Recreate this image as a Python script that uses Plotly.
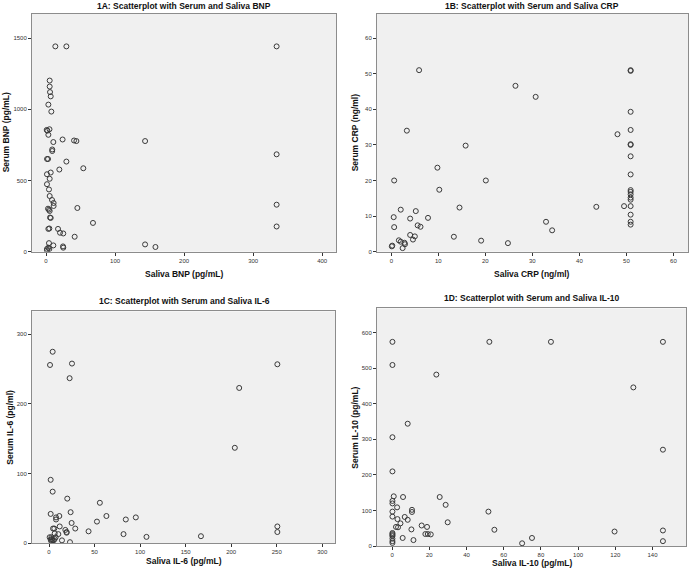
import plotly.graph_objects as go

W, H = 690, 576

# ---- data ----
bnp_saliva = [13.5, 29.5, 334, 5.3, 5.3, 5.8, 6.8, 3.4, 7.7, 1, 2, 5, 3.4, 24, 40.6, 44, 143.5, 10.6, 9, 9,
              1.5, 2.9, 29.5, 334, 19.3, 54, 6.8, 1.4, 5.3, 1.4, 4.3, 5.3, 8.7, 11, 11, 45.4, 334, 2.9, 4.3, 5.3,
              5.8, 6.8, 68, 334, 3.4, 4.8, 17.4, 20.3, 25, 41.5, 4.3, 10.6, 143.5, 158.5, 24.6, 25, 3.4, 1.4, 4.8, 1.4]
bnp_serum = [1442, 1442, 1442, 1202, 1160, 1121, 1091, 1033, 984, 855, 850, 860, 821, 788, 781, 777, 777, 770, 718, 707,
             651, 651, 633, 684, 577, 586, 556, 544, 512, 474, 437, 391, 363, 342, 321, 307, 330, 302, 295, 286,
             240, 237, 202, 177, 160, 163, 160, 133, 128, 105, 60, 44, 51, 33, 37, 28, 28, 19, 19, 9]

crp_saliva = [5.9, 50.9, 50.9, 26.4, 30.7, 50.9, 3.3, 48.1, 50.9, 15.8, 50.9, 50.9, 50.9, 9.8, 0.6, 20.1, 50.9, 10.2,
              50.9, 50.9, 50.9, 50.9, 50.9, 2.0, 5.2, 14.5, 43.6, 49.5, 50.9, 0.5, 4.0, 7.8, 50.9, 0.6, 5.6, 6.2,
              32.9, 34.2, 50.9, 50.9, 4.0, 5.0, 4.6, 13.3, 19.1, 24.8, 1.6, 2.0, 2.8, 2.9, 2.4, 0.1, 0.2]
crp_serum = [51.0, 51.0, 50.8, 46.6, 43.5, 39.3, 34.0, 33.0, 34.2, 29.8, 30.0, 30.2, 26.8, 23.6, 20.0, 20.0, 21.7, 17.4,
             17.3, 16.8, 16.1, 15.2, 14.6, 11.8, 11.4, 12.4, 12.6, 12.8, 12.8, 9.7, 9.3, 9.5, 10.4, 6.9, 7.4, 7.0,
             8.4, 6.0, 8.4, 7.6, 4.7, 4.3, 3.4, 4.2, 3.1, 2.4, 3.2, 2.8, 2.5, 2.1, 1.0, 1.5, 1.7]

il6_saliva = [4.0, 1.1, 25.2, 22.6, 250.7, 208.8, 204, 1.8, 4.0, 20, 55.8, 1.8, 23.7, 11.3, 7.7, 7.7, 63, 84.3, 95.3,
              24.8, 52.6, 11.7, 28.8, 4.4, 5.8, 17.9, 19.3, 19.3, 43.4, 81.8, 107, 166.8, 250.7, 250.7, 6.2, 10.2,
              7.3, 0.7, 3.3, 3.6, 5.1, 2.6, 14.2, 23, 2.6, 6.2, 1.8]
il6_serum = [275, 256, 258, 237, 257, 223, 137, 91, 74, 64, 58, 42, 44.5, 39, 37, 34, 39, 34, 37,
             29, 31, 24, 21, 21, 21, 19, 16, 15, 17, 13, 9, 10, 24, 16, 14, 13,
             8.5, 8.5, 6, 4, 4, 2.4, 4, 1.4, 8.5, 6, 5]

il10_saliva = [0.2, 52.3, 85.4, 145.6, 0.2, 23.8, 129.7, 8.4, 0.2, 145.6, 0.2, 0.9, 5.9, 25.6, 28.8, 0.2, 0.2, 2.7,
               10.7, 10.7, 0.2, 51.8, 0.2, 6.8, 2.9, 8.4, 4.5, 29.9, 2.1, 3.2, 15.9, 18.8, 10.4, 55, 119.6, 145.6,
               0.2, 0.2, 0.2, 0.2, 17.9, 19.2, 20.8, 0.2, 0.2, 0.2, 5.7, 75.2, 11.5, 145.6, 69.9]
il10_serum = [574, 574, 574, 574, 509, 482, 446, 344, 306, 271, 210, 140, 138, 138, 116, 127, 120, 109,
              102, 96, 97, 97, 83, 82, 76, 74, 64, 67, 54, 53, 58, 54, 47, 46, 41, 44,
              37, 34, 31, 28, 34, 34, 33, 14, 21, 9, 23, 23, 17, 14, 8]

panels = [
    dict(x=bnp_saliva, y=bnp_serum, title="1A: Scatterplot with Serum and Saliva BNP",
         xt="Saliva BNP (pg/mL)", yt="Serum BNP (pg/mL)",
         xr=[-20.3, 420], yr=[0, 1670], xd=100, yd=500,
         px=(32, 336), py=(14, 253), tpos=(184, 6), xtpos=(184, 275), ytpos=(6, 133)),
    dict(x=crp_saliva, y=crp_serum, title="1B: Scatterplot with Serum and Saliva CRP",
         xt="Saliva CRP (ng/ml)", yt="Serum CRP (ng/ml)",
         xr=[-3.05, 63.1], yr=[0, 66.8], xd=10, yd=10,
         px=(377, 688), py=(14, 253), tpos=(532, 6), xtpos=(532, 275), ytpos=(355, 133)),
    dict(x=il6_saliva, y=il6_serum, title="1C: Scatterplot with Serum and Saliva IL-6",
         xt="Saliva IL-6 (pg/mL)", yt="Serum IL-6 (pg/ml)",
         xr=[-18.7, 314], yr=[0, 333], xd=50, yd=100,
         px=(32, 335), py=(313, 546), tpos=(184, 303), xtpos=(184, 564), ytpos=(10, 430)),
    dict(x=il10_saliva, y=il10_serum, title="1D: Scatterplot with Serum and Saliva IL-10",
         xt="Saliva IL-10 (pg/mL)", yt="Serum IL-10 (pg/mL)",
         xr=[-8.1, 158], yr=[0, 668], xd=20, yd=100,
         px=(377, 686), py=(310, 549), tpos=(532, 300), xtpos=(532, 566), ytpos=(355, 430)),
]

FONT = "Liberation Sans, Arial, sans-serif"
fig = go.Figure()
layout = dict(width=W, height=H, margin=dict(l=0, r=0, t=0, b=0),
              paper_bgcolor="white", plot_bgcolor="#f0f0f0", showlegend=False,
              font=dict(family=FONT, color="#222"))
annotations = []
for i, p in enumerate(panels, start=1):
    xa = "x" if i == 1 else f"x{i}"
    ya = "y" if i == 1 else f"y{i}"
    fig.add_trace(go.Scatter(x=p["x"], y=p["y"], mode="markers", xaxis=xa, yaxis=ya,
                             marker=dict(symbol="circle-open", size=5, color="#3a3a3a",
                                         line=dict(width=1, color="#3a3a3a")),
                             hoverinfo="x+y"))
    axcommon = dict(showgrid=False, zeroline=False, showline=True, mirror=True,
                    linecolor="#8c8c8c", linewidth=1, ticks="outside", ticklen=3,
                    tickcolor="#333", tickwidth=1, tickfont=dict(size=6, color="#333", family=FONT))
    layout["xaxis" if i == 1 else f"xaxis{i}"] = dict(
        axcommon, domain=[p["px"][0] / W, p["px"][1] / W], range=p["xr"], dtick=p["xd"], tick0=0,
        anchor=ya)
    layout["yaxis" if i == 1 else f"yaxis{i}"] = dict(
        axcommon, domain=[1 - p["py"][1] / H, 1 - p["py"][0] / H], range=p["yr"], dtick=p["yd"], tick0=0,
        anchor=xa)
    annotations.append(dict(text="<b>" + p["title"] + "</b>", x=p["tpos"][0] / W, y=1 - p["tpos"][1] / H,
                            xref="paper", yref="paper", showarrow=False, xanchor="center", yanchor="middle",
                            font=dict(size=8.5, color="#111", family=FONT)))
    annotations.append(dict(text="<b>" + p["xt"] + "</b>", x=p["xtpos"][0] / W, y=1 - p["xtpos"][1] / H,
                            xref="paper", yref="paper", showarrow=False, xanchor="center", yanchor="middle",
                            font=dict(size=8.5, color="#111", family=FONT)))
    annotations.append(dict(text="<b>" + p["yt"] + "</b>", x=p["ytpos"][0] / W, y=1 - p["ytpos"][1] / H,
                            xref="paper", yref="paper", showarrow=False, xanchor="center", yanchor="middle",
                            textangle=-90, font=dict(size=8.5, color="#111", family=FONT)))
layout["annotations"] = annotations
fig.update_layout(**layout)
fig.write_html("out.html", config={"displayModeBar": False},
               post_script="document.body.style.margin='0';")
